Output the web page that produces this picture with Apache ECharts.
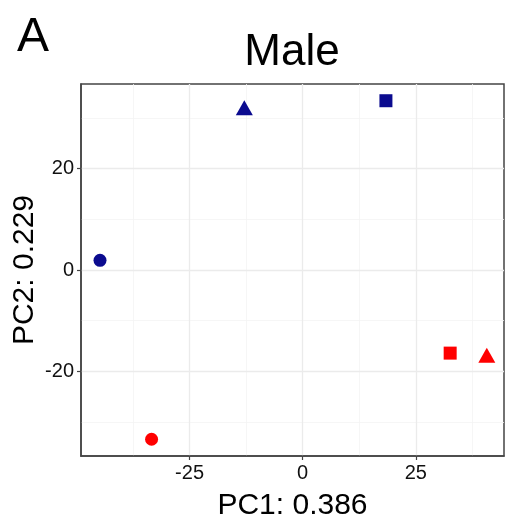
<!DOCTYPE html>
<html lang="en">
    <head>
        <meta charset="UTF-8" />
        <script src="https://cdn.jsdelivr.net/npm/echarts@6.0.0/dist/echarts.min.js"></script>
        <title>Male PCA</title>
        <style>
            html, body {
                margin: 0;
                padding: 0;
                background: #fff;
            }

            #chart {
                width: 505px;
                height: 521px;
            }
        </style>
    </head>

    <body>
        <div id="chart"></div>
        <script type="text/javascript">
            // PCA scores
            var pc1 = [-44.8, -12.9, 18.4, -33.4, 32.6, 40.7];
            var pc2 = [1.9, 32.0, 33.4, -33.4, -16.4, -16.8];
            var shapes = ["circle", "triangle", "rect", "circle", "rect", "triangle"];
            var groups = ["blue", "blue", "blue", "red", "red", "red"];

            // tick positions (major ones get labels)
            var xTicks = [-25, 0, 25];
            var yTicks = [-20, 0, 20];
            var xMinor = [-37.5, -12.5, 12.5, 37.5];
            var yMinor = [-30, -10, 10, 30];

            var font = "'Liberation Sans', Arial, sans-serif";
            var colors = { blue: "#0b0b8f", red: "#ff0000" };
            var sizes = { circle: 13, rect: 13, triangle: [17, 15] };

            function pointsFor(group) {
                var out = [];
                for (var i = 0; i < pc1.length; i++) {
                    if (groups[i] !== group) continue;
                    out.push({
                        value: [pc1[i], pc2[i]],
                        symbol: shapes[i],
                        symbolSize: sizes[shapes[i]],
                    });
                }
                return out;
            }

            var chart = echarts.init(document.getElementById("chart"));

            var major = { show: true, lineStyle: { color: "#ebebeb", width: 1.3 } };
            var minor = { show: true, lineStyle: { color: "#f4f4f4", width: 0.8 } };
            var hidden = { show: false };
            var labelStyle = { fontFamily: font, fontSize: 20, color: "#111", margin: 7 };
            var tickStyle = { show: true, length: 4, lineStyle: { color: "#444", width: 1.2 } };

            var option = {
                animation: false,
                graphic: [
                    {
                        type: "text",
                        x: 292,
                        y: 53,
                        style: {
                            text: "Male",
                            font: "44px " + font,
                            fill: "#000",
                            textAlign: "center",
                            textVerticalAlign: "middle",
                        },
                    },
                    {
                        type: "text",
                        x: 17,
                        y: 38,
                        style: {
                            text: "A",
                            font: "48px " + font,
                            fill: "#000",
                            textAlign: "left",
                            textVerticalAlign: "middle",
                        },
                    },
                ],
                grid: {
                    left: 81,
                    right: 1,
                    top: 84,
                    bottom: 65,
                    outerBoundsMode: "none",
                    containLabel: false,
                    show: true,
                    borderColor: "#444",
                    borderWidth: 1.5,
                },
                xAxis: [
                    {
                        type: "value",
                        min: -49,
                        max: 44.5,
                        name: "PC1: 0.386",
                        nameLocation: "middle",
                        nameGap: 35,
                        nameTextStyle: { fontFamily: font, fontSize: 30, color: "#000" },
                        axisLine: { onZero: false, lineStyle: { color: "#444", width: 1.5 } },
                        axisTick: Object.assign({ customValues: xTicks }, tickStyle),
                        axisLabel: Object.assign({ customValues: xTicks }, labelStyle),
                        splitLine: major,
                        z: 3,
                    },
                    {
                        type: "value",
                        min: -49,
                        max: 44.5,
                        axisLine: hidden,
                        axisTick: { show: false, customValues: xMinor },
                        axisLabel: { show: false, customValues: xMinor },
                        splitLine: minor,
                        z: 1,
                    },
                ],
                yAxis: [
                    {
                        type: "value",
                        min: -36.7,
                        max: 36.7,
                        name: "PC2: 0.229",
                        nameLocation: "middle",
                        nameGap: 41,
                        nameMoveOverlap: false,
                        nameTextStyle: { fontFamily: font, fontSize: 30, color: "#000" },
                        axisLine: { onZero: false, lineStyle: { color: "#444", width: 1.5 } },
                        axisTick: Object.assign({ customValues: yTicks }, tickStyle),
                        axisLabel: Object.assign({ customValues: yTicks }, labelStyle),
                        splitLine: major,
                        z: 3,
                    },
                    {
                        type: "value",
                        min: -36.7,
                        max: 36.7,
                        axisLine: hidden,
                        axisTick: { show: false, customValues: yMinor },
                        axisLabel: { show: false, customValues: yMinor },
                        splitLine: minor,
                        z: 1,
                    },
                ],
                series: [
                    {
                        type: "scatter",
                        name: "blue",
                        itemStyle: { color: colors.blue, opacity: 1 },
                        data: pointsFor("blue"),
                        z: 5,
                    },
                    {
                        type: "scatter",
                        name: "red",
                        itemStyle: { color: colors.red, opacity: 1 },
                        data: pointsFor("red"),
                        z: 5,
                    },
                ],
            };

            chart.setOption(option);
        </script>
    </body>
</html>
